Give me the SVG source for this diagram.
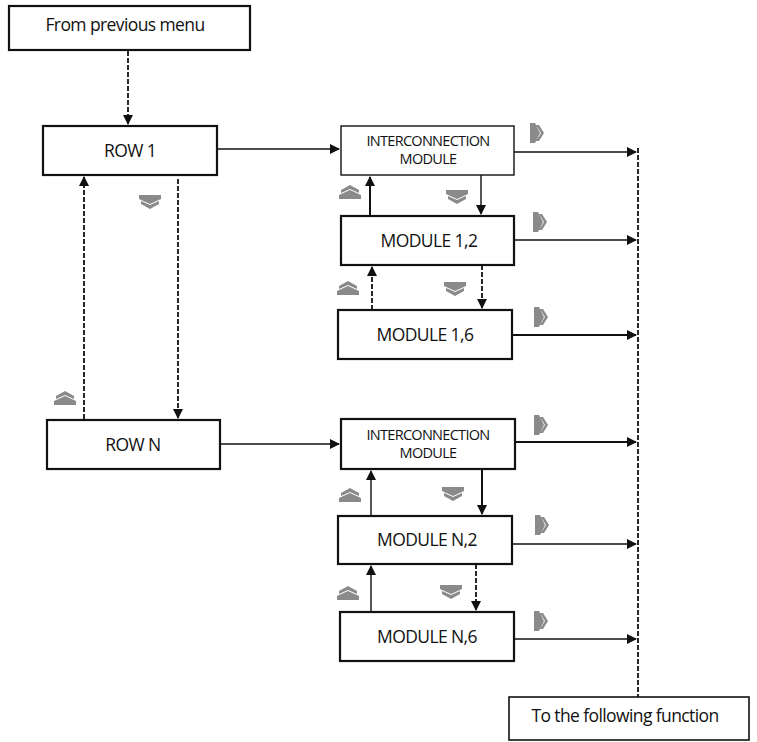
<svg xmlns="http://www.w3.org/2000/svg" xmlns:xlink="http://www.w3.org/1999/xlink" width="757" height="742" viewBox="0 0 757 742">
<style>
.box{fill:#fff;stroke:#111;stroke-width:2.2}
.t{font-family:"Open Sans","Liberation Sans",sans-serif;font-size:17.5px;fill:#111;text-anchor:middle;letter-spacing:-0.6px}
.ts{font-family:"Open Sans","Liberation Sans",sans-serif;font-size:14.5px;fill:#111;text-anchor:middle;letter-spacing:-0.7px}
.l{stroke:#111;stroke-width:1.4;fill:none;marker-end:url(#a)}
.d{stroke-dasharray:5 2;stroke-width:1.8}
.g{fill:#8a8a8a}
</style>
<defs>
<marker id="a" markerWidth="10" markerHeight="10" refX="9" refY="5" orient="auto" markerUnits="userSpaceOnUse"><path d="M0,0 L10,5 L0,10 z" fill="#111"/></marker>
<g id="dn"><path d="M-11,-7 L11,-7 L11,-3 L0,2 L-11,-3 z M-9,-1 L0,3 L9,-1 L9,2 L0,7 L-9,2 z"/></g>
<g id="up"><path d="M-11,7 L11,7 L11,3 L0,-2 L-11,3 z M-9,1 L0,-3 L9,1 L9,-2 L0,-7 L-9,-2 z"/></g>
<g id="rt"><path d="M-7,-10 L-7,10 L-2,10 L3,0 L-2,-10 z M-1,-8 L4,0 L-1,8 L2,8 L7,0 L2,-8 z"/></g>
</defs>
<g id="connectors">
<line class="l d" x1="128" y1="51" x2="128" y2="124"/>
<line class="l" x1="217" y1="149" x2="339" y2="149"/>
<line class="l d" x1="84" y1="419" x2="84" y2="177"/>
<line class="l d" x1="178" y1="179" x2="178" y2="418"/>
<line class="l" x1="220" y1="444" x2="339" y2="444"/>
<line class="l" x1="514" y1="152" x2="636" y2="152"/>
<line class="l" x1="514" y1="240" x2="636" y2="240"/>
<line class="l" x1="512" y1="335" x2="636" y2="335" style="stroke-width:2"/>
<line class="l" x1="515" y1="442" x2="636" y2="442" style="stroke-width:2"/>
<line class="l" x1="512" y1="544" x2="636" y2="544"/>
<line class="l" x1="514" y1="639" x2="636" y2="639"/>
<line x1="638" y1="148" x2="638" y2="697" stroke="#111" stroke-width="1.8" stroke-dasharray="5 2"/>
<line class="l" x1="370" y1="216" x2="370" y2="177" style="stroke-width:2"/>
<line class="l" x1="481" y1="175" x2="481" y2="214"/>
<line class="l d" x1="372" y1="310" x2="372" y2="267"/>
<line class="l d" x1="482" y1="265" x2="482" y2="308"/>
<line class="l" x1="371" y1="516" x2="371" y2="471"/>
<line class="l" x1="482" y1="469" x2="482" y2="514" style="stroke-width:2"/>
<line class="l" x1="371" y1="612" x2="371" y2="566"/>
<line class="l d" x1="476" y1="564" x2="476" y2="610"/>
</g>
<g id="chevrons" class="g">
<use xlink:href="#dn" x="150" y="202"/>
<use xlink:href="#up" x="65" y="398"/>
<use xlink:href="#up" x="350" y="192"/>
<use xlink:href="#dn" x="457" y="197"/>
<use xlink:href="#up" x="348" y="288"/>
<use xlink:href="#dn" x="455" y="289"/>
<use xlink:href="#up" x="350" y="495"/>
<use xlink:href="#dn" x="453" y="494"/>
<use xlink:href="#up" x="348" y="593"/>
<use xlink:href="#dn" x="451" y="592"/>
<use xlink:href="#rt" x="537" y="133"/>
<use xlink:href="#rt" x="540" y="222"/>
<use xlink:href="#rt" x="541" y="317"/>
<use xlink:href="#rt" x="541" y="425"/>
<use xlink:href="#rt" x="542" y="525"/>
<use xlink:href="#rt" x="541" y="621"/>
</g>
<g id="from"><rect class="box" x="9" y="6" width="241" height="44"/><text class="t" x="125" y="31">From previous menu</text></g>
<g id="row1"><rect class="box" x="43" y="126" width="174" height="49"/><text class="t" x="130" y="157">ROW 1</text></g>
<g id="rowN"><rect class="box" x="47" y="420" width="173" height="49"/><text class="t" x="133" y="451">ROW N</text></g>
<g id="ic1"><rect class="box" x="341" y="126" width="173" height="49" style="stroke-width:1.4"/><text class="ts" x="428" y="146">INTERCONNECTION</text><text class="ts" x="428" y="164">MODULE</text></g>
<g id="mN2x"/>
<g id="m12"><rect class="box" x="341" y="216" width="173" height="49"/><text class="t" x="429" y="247">MODULE 1,2</text></g>
<g id="m16"><rect class="box" x="338" y="310" width="174" height="49"/><text class="t" x="425" y="341">MODULE 1,6</text></g>
<g id="icN"><rect class="box" x="341" y="419" width="174" height="50"/><text class="ts" x="428" y="440">INTERCONNECTION</text><text class="ts" x="428" y="458">MODULE</text></g>
<g id="mN2"><rect class="box" x="338" y="516" width="174" height="48"/><text class="t" x="427" y="546">MODULE N,2</text></g>
<g id="mN6"><rect class="box" x="340" y="612" width="174" height="49"/><text class="t" x="427" y="643">MODULE N,6</text></g>
<g id="next"><rect class="box" x="509" y="697" width="240" height="43" style="stroke-width:1.6"/><text class="t" x="625" y="722">To the following function</text></g>
</svg>
